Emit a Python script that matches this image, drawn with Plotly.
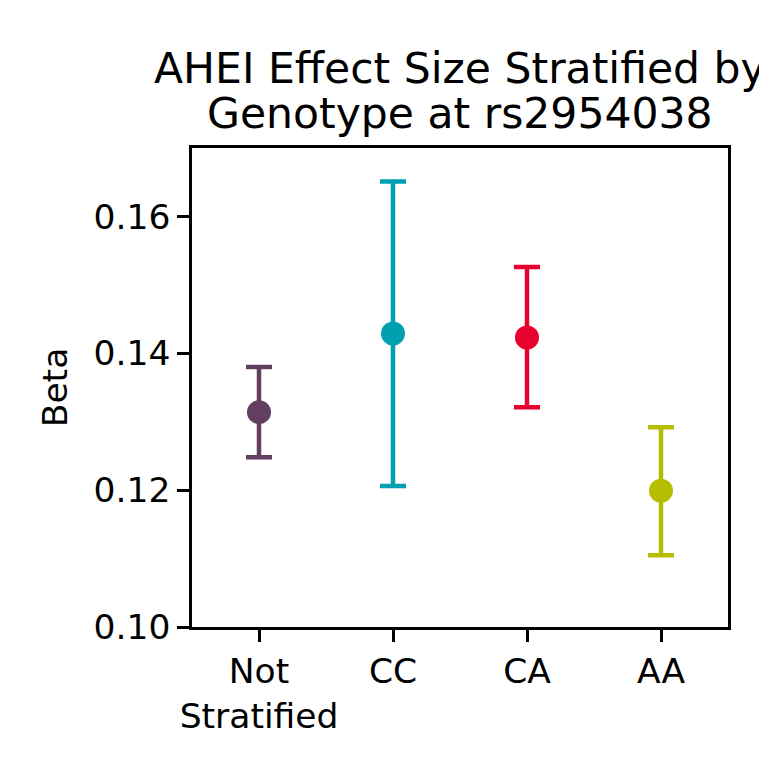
import plotly.graph_objects as go

categories = ["Not<br>Stratified", "CC", "CA", "AA"]
beta = [0.1314, 0.1429, 0.1423, 0.1199]
upper = [0.1380, 0.1651, 0.1526, 0.1292]
lower = [0.1248, 0.1206, 0.1321, 0.1105]
colors = ["#633f5f", "#00a0b0", "#e8002e", "#b5bd00"]

fig = go.Figure()
for i, (c, b, u, l, col) in enumerate(zip(categories, beta, upper, lower, colors)):
    fig.add_trace(go.Scatter(
        x=[i], y=[b], mode="markers",
        marker=dict(color=col, size=24),
        error_y=dict(type="data", symmetric=False, array=[u - b], arrayminus=[b - l],
                     color=col, thickness=4.5, width=13),
        showlegend=False, hoverinfo="skip",
    ))

font = "DejaVu Sans, sans-serif"
fig.update_layout(
    width=759, height=758,
    margin=dict(l=184, r=39, t=140, b=139),
    paper_bgcolor="white", plot_bgcolor="white",
    font=dict(family=font, size=34.5, color="black"),
    xaxis=dict(range=[-0.5, 3.5], tickvals=list(range(len(categories))), ticktext=categories,
               showgrid=False, zeroline=False, showline=True, linecolor="black", linewidth=2.5,
               mirror=True, ticks="outside", ticklen=12, tickwidth=2.5, tickcolor="black",
               tickfont=dict(size=34.5)),
    yaxis=dict(range=[0.10, 0.17], tickvals=[0.10, 0.12, 0.14, 0.16],
               ticktext=["0.10", "0.12", "0.14", "0.16"],
               showgrid=False, zeroline=False, showline=True, linecolor="black", linewidth=2.5,
               mirror=True, ticks="outside", ticklen=12, tickwidth=2.5, tickcolor="black",
               tickfont=dict(size=34.5),
               title=dict(text="Beta", font=dict(size=34.5), standoff=16)),
    annotations=[
        dict(text="AHEI Effect Size Stratified by", xref="paper", yref="paper", x=0.5, y=1,
             yshift=148 - 82 - 13, xanchor="center", yanchor="bottom", showarrow=False,
             font=dict(size=42.5)),
        dict(text="Genotype at rs2954038", xref="paper", yref="paper", x=0.5, y=1,
             yshift=148 - 128 - 12, xanchor="center", yanchor="bottom", showarrow=False,
             font=dict(size=42.5)),
    ],
)

fig.write_html("out.html")
